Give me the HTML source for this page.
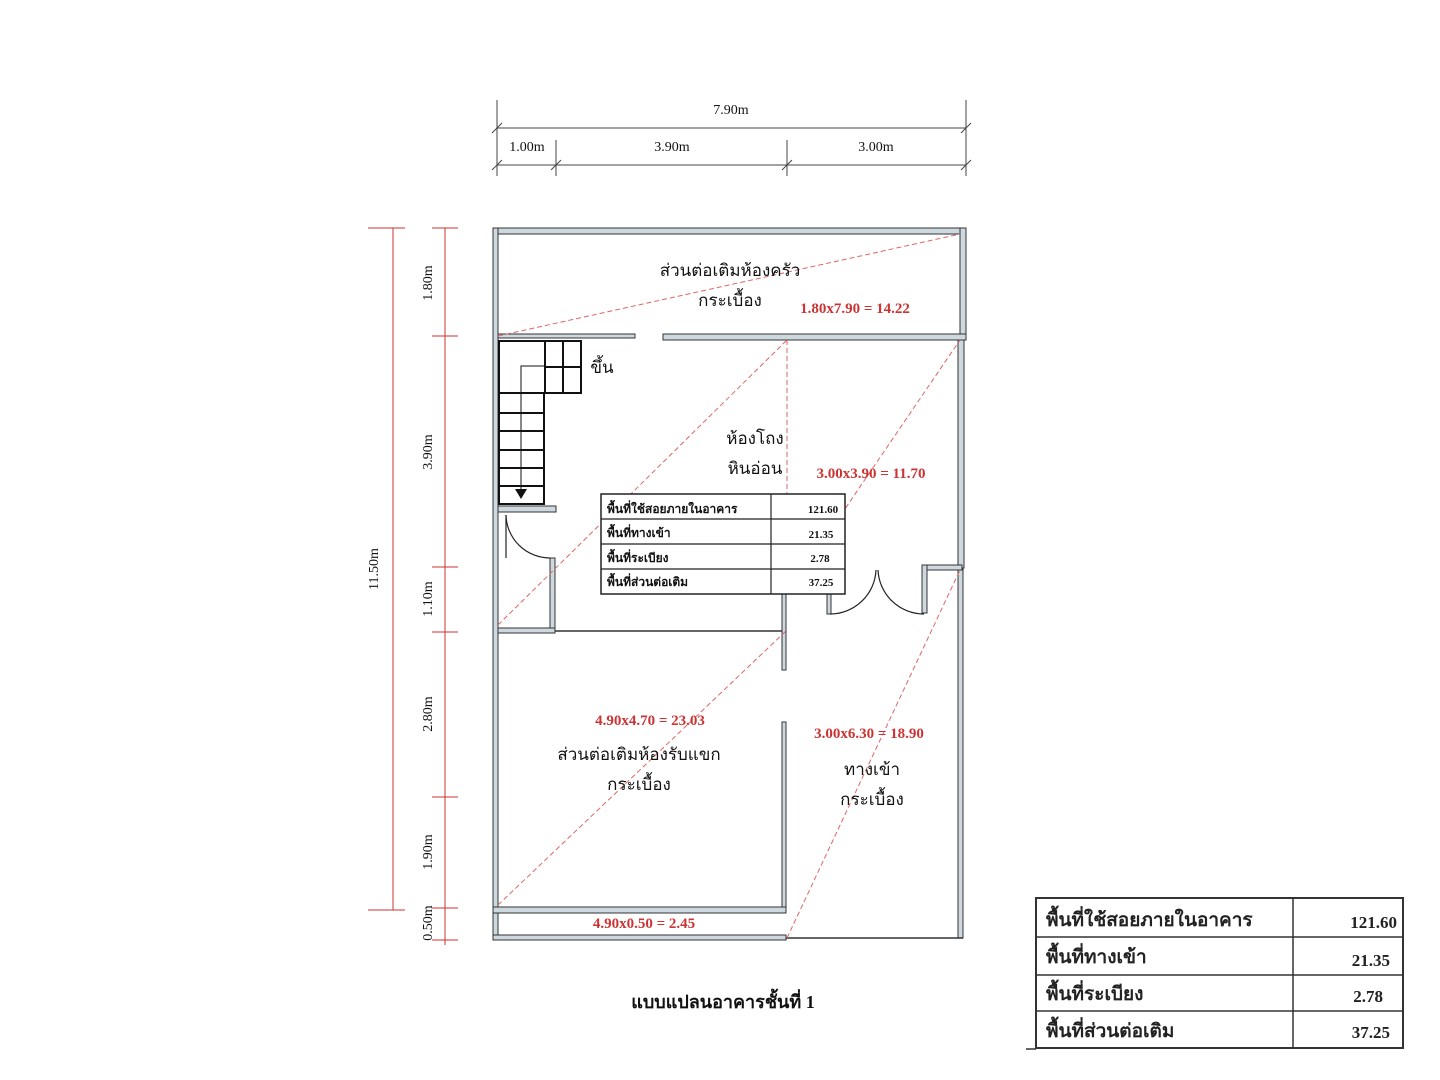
<!DOCTYPE html><html><head><meta charset="utf-8"><style>html,body{margin:0;padding:0;background:#fff}svg{display:block}text{font-family:"Liberation Serif","Noto Serif CJK SC","Noto Sans CJK SC",serif}</style></head><body>
<svg width="1440" height="1080" viewBox="0 0 1440 1080" xmlns="http://www.w3.org/2000/svg">
<g stroke="#444" stroke-width="1" fill="none">
<!-- top dims -->
<line x1="497" y1="128" x2="966" y2="128"/><line x1="497" y1="100" x2="497" y2="176"/><line x1="966" y1="100" x2="966" y2="176"/>
<line x1="492" y1="133" x2="502" y2="123"/><line x1="961" y1="133" x2="971" y2="123"/>
<line x1="497" y1="165" x2="966" y2="165"/><line x1="556" y1="140" x2="556" y2="176"/><line x1="787" y1="140" x2="787" y2="176"/>
<line x1="492" y1="170" x2="502" y2="160"/><line x1="551" y1="170" x2="561" y2="160"/><line x1="782" y1="170" x2="792" y2="160"/><line x1="961" y1="170" x2="971" y2="160"/>
</g>
<g stroke="#c33" stroke-width="1" fill="none">
<line x1="393" y1="228" x2="393" y2="910"/>
<line x1="368" y1="228" x2="405" y2="228"/><line x1="368" y1="910" x2="405" y2="910"/>
<line x1="445" y1="228" x2="445" y2="945"/>
<line x1="432" y1="228" x2="458" y2="228"/><line x1="432" y1="336" x2="458" y2="336"/><line x1="432" y1="567" x2="458" y2="567"/><line x1="432" y1="632" x2="458" y2="632"/><line x1="432" y1="797" x2="458" y2="797"/><line x1="432" y1="908" x2="458" y2="908"/><line x1="432" y1="940" x2="458" y2="940"/>
</g>
<g font-size="14" fill="#111">
<text x="731" y="114" text-anchor="middle">7.90m</text>
<text x="527" y="151" text-anchor="middle">1.00m</text>
<text x="672" y="151" text-anchor="middle">3.90m</text>
<text x="876" y="151" text-anchor="middle">3.00m</text>
<text transform="translate(378,569) rotate(-90)" text-anchor="middle">11.50m</text>
<text transform="translate(432,283) rotate(-90)" text-anchor="middle">1.80m</text>
<text transform="translate(432,452) rotate(-90)" text-anchor="middle">3.90m</text>
<text transform="translate(432,599) rotate(-90)" text-anchor="middle">1.10m</text>
<text transform="translate(432,714) rotate(-90)" text-anchor="middle">2.80m</text>
<text transform="translate(432,852) rotate(-90)" text-anchor="middle">1.90m</text>
<text transform="translate(432,923) rotate(-90)" text-anchor="middle">0.50m</text>
</g>
<!-- walls -->
<g fill="#cdd8df" stroke="#333" stroke-width="1">
<rect x="493" y="228" width="473" height="6"/>
<rect x="493" y="228" width="5" height="712"/>
<rect x="960" y="228" width="6" height="110"/>
<rect x="958" y="338" width="6" height="230"/>
<rect x="958" y="568" width="5" height="370"/>
<rect x="498" y="334" width="137" height="4"/>
<rect x="663" y="334" width="303" height="6"/>
<rect x="498" y="506" width="58" height="6"/>
<rect x="550" y="558" width="5" height="75"/>
<rect x="498" y="628" width="57" height="5"/>
<rect x="782" y="594" width="4" height="76"/>
<rect x="827" y="570" width="4" height="44"/>
<rect x="922" y="565" width="40" height="5"/>
<rect x="922" y="565" width="5" height="48"/>
<rect x="782" y="722" width="4" height="191"/>
<rect x="493" y="907" width="293" height="6"/>
<rect x="493" y="935" width="293" height="5"/>
</g>
<line x1="555" y1="631" x2="782" y2="631" stroke="#333" stroke-width="1.5"/>
<line x1="786" y1="938" x2="963" y2="938" stroke="#333" stroke-width="1.5"/>
<!-- stairs -->
<g stroke="#111" stroke-width="2" fill="none">
<rect x="499" y="341" width="82" height="52"/>
<line x1="545" y1="341" x2="545" y2="393"/><line x1="563" y1="341" x2="563" y2="393"/><line x1="545" y1="367" x2="581" y2="367"/>
<rect x="499" y="393" width="45" height="111"/>
<line x1="499" y1="413" x2="544" y2="413"/><line x1="499" y1="431" x2="544" y2="431"/><line x1="499" y1="450" x2="544" y2="450"/><line x1="499" y1="468" x2="544" y2="468"/><line x1="499" y1="486" x2="544" y2="486"/>
</g>
<polyline points="521,490 521,366 545,366" stroke="#111" stroke-width="1" fill="none"/>
<polygon points="515,489 527,489 521,499" fill="#111"/>
<!-- doors -->
<g stroke="#222" stroke-width="1.2" fill="none">
<path d="M506 515 A44 44 0 0 0 550 558"/><line x1="506" y1="515" x2="506" y2="558"/>
<path d="M876 570 A46 46 0 0 1 830 614"/><path d="M878 570 A46 46 0 0 0 924 614"/>
</g>
<!-- red dashed -->
<g stroke="#d66" stroke-width="1" stroke-dasharray="5,3" fill="none">
<line x1="498" y1="336" x2="960" y2="234"/>
<line x1="498" y1="625" x2="787" y2="340"/>
<line x1="787" y1="340" x2="787" y2="594"/>
<line x1="787" y1="594" x2="960" y2="340"/>
<line x1="498" y1="905" x2="787" y2="630"/>
<line x1="787" y1="938" x2="960" y2="570"/>
</g>
<!-- labels -->
<g font-size="17" fill="#111" text-anchor="middle" font-family="'Liberation Serif','Noto Serif CJK SC',serif">
<text x="730" y="276">ส่วนต่อเติมห้องครัว</text>
<text x="730" y="306">กระเบื้อง</text>
<text x="602" y="373">ขึ้น</text>
<text x="755" y="444">ห้องโถง</text>
<text x="755" y="474">หินอ่อน</text>
<text x="639" y="760">ส่วนต่อเติมห้องรับแขก</text>
<text x="639" y="790">กระเบื้อง</text>
<text x="872" y="775">ทางเข้า</text>
<text x="872" y="805">กระเบื้อง</text>
<text x="723" y="1008" font-weight="bold" font-size="18">แบบแปลนอาคารชั้นที่ 1</text>
</g>
<g font-size="15" fill="#c33" font-weight="bold" text-anchor="middle">
<text x="855" y="313">1.80x7.90 = 14.22</text>
<text x="871" y="478">3.00x3.90 = 11.70</text>
<text x="650" y="725">4.90x4.70 = 23.03</text>
<text x="869" y="738">3.00x6.30 = 18.90</text>
<text x="644" y="928">4.90x0.50 = 2.45</text>
</g>
<!-- center table -->
<g stroke="#222" stroke-width="1.5" fill="#fff">
<rect x="601" y="494" width="244" height="100"/>
</g>
<g stroke="#222" stroke-width="1.2">
<line x1="771" y1="494" x2="771" y2="594"/><line x1="601" y1="519" x2="845" y2="519"/><line x1="601" y1="544" x2="845" y2="544"/><line x1="601" y1="569" x2="845" y2="569"/>
</g>
<g font-size="12" font-weight="bold" fill="#111">
<text x="607" y="513">พื้นที่ใช้สอยภายในอาคาร</text><text x="607" y="537">พื้นที่ทางเข้า</text><text x="607" y="562">พื้นที่ระเบียง</text><text x="607" y="586">พื้นที่ส่วนต่อเติม</text>
<g text-anchor="middle" font-size="11"><text x="823" y="513">121.60</text><text x="821" y="538">21.35</text><text x="820" y="562">2.78</text><text x="821" y="586">37.25</text></g>
</g>
<!-- bottom-right table -->
<rect x="1036" y="898" width="367" height="150" fill="none" stroke="#333" stroke-width="2"/>
<g stroke="#333" stroke-width="1.5">
<line x1="1293" y1="898" x2="1293" y2="1048"/><line x1="1036" y1="937" x2="1403" y2="937"/><line x1="1036" y1="975" x2="1403" y2="975"/><line x1="1036" y1="1011" x2="1403" y2="1011"/>
<line x1="1026" y1="1049" x2="1036" y2="1049"/>
</g>
<g font-size="19" font-weight="bold" fill="#222">
<text x="1046" y="926">พื้นที่ใช้สอยภายในอาคาร</text><text x="1046" y="963">พื้นที่ทางเข้า</text><text x="1046" y="1000">พื้นที่ระเบียง</text><text x="1046" y="1037">พื้นที่ส่วนต่อเติม</text>
<g text-anchor="end" font-size="17"><text x="1397" y="928">121.60</text><text x="1390" y="966">21.35</text><text x="1383" y="1002">2.78</text><text x="1390" y="1038">37.25</text></g>
</g>
</svg>
</body></html>
